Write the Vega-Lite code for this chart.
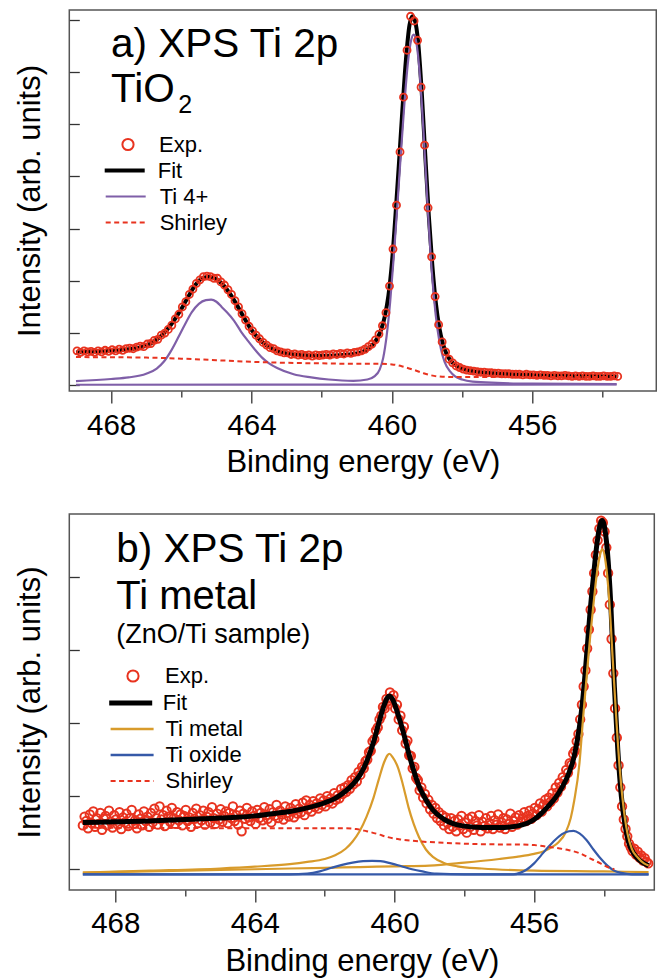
{
"$schema": "https://vega.github.io/schema/vega-lite/v6.json",
"padding": {"left": 13.3, "top": 7, "right": 0, "bottom": 0},
"config": {
 "font": "Liberation Sans",
 "view": {"stroke": "#555", "strokeWidth": 1.5},
 "axis": {"domain": false, "grid": false, "labelFont": "Liberation Sans", "titleFont": "Liberation Sans", "labelFontSize": 29.5, "titleFontSize": 31, "titleFontWeight": "normal", "labelColor": "#000", "titleColor": "#000", "tickColor": "#333", "tickWidth": 1.3},
 "legend": {"labelFont": "Liberation Sans", "labelFontSize": 22, "labelColor": "#000", "padding": 0}
},
"spacing": 30,
"resolve": {"scale": {"x": "independent", "y": "independent", "color": "independent", "strokeDash": "independent", "strokeWidth": "independent", "shape": "independent", "opacity": "independent"}, "legend": {"color": "independent", "strokeDash": "independent", "strokeWidth": "independent", "shape": "independent", "opacity": "independent"}},
"datasets": {
 "a_curves": [
  {"s":"Fit","e":469.0,"i":0.63},{"s":"Fit","e":468.5,"i":0.645},{"s":"Fit","e":468.0,"i":0.66},{"s":"Fit","e":467.5,"i":0.69},{"s":"Fit","e":467.2,"i":0.72},{"s":"Fit","e":467.0,"i":0.76},{"s":"Fit","e":466.8,"i":0.83},{"s":"Fit","e":466.6,"i":0.93},{"s":"Fit","e":466.4,"i":1.07},{"s":"Fit","e":466.2,"i":1.25},{"s":"Fit","e":466.0,"i":1.46},{"s":"Fit","e":465.8,"i":1.70},{"s":"Fit","e":465.6,"i":1.92},{"s":"Fit","e":465.4,"i":2.05},{"s":"Fit","e":465.2,"i":2.08},{"s":"Fit","e":465.0,"i":2.03},{"s":"Fit","e":464.8,"i":1.92},{"s":"Fit","e":464.6,"i":1.74},{"s":"Fit","e":464.4,"i":1.52},{"s":"Fit","e":464.2,"i":1.28},{"s":"Fit","e":464.0,"i":1.06},{"s":"Fit","e":463.8,"i":0.90},{"s":"Fit","e":463.6,"i":0.78},{"s":"Fit","e":463.4,"i":0.70},{"s":"Fit","e":463.2,"i":0.64},{"s":"Fit","e":463.0,"i":0.61},{"s":"Fit","e":462.5,"i":0.575},{"s":"Fit","e":462.0,"i":0.565},{"s":"Fit","e":461.5,"i":0.575},{"s":"Fit","e":461.0,"i":0.61},{"s":"Fit","e":460.8,"i":0.65},{"s":"Fit","e":460.6,"i":0.74},{"s":"Fit","e":460.4,"i":0.92},{"s":"Fit","e":460.3,"i":1.08},{"s":"Fit","e":460.2,"i":1.33},{"s":"Fit","e":460.1,"i":1.72},{"s":"Fit","e":460.0,"i":2.35},{"s":"Fit","e":459.9,"i":3.25},{"s":"Fit","e":459.8,"i":4.25},{"s":"Fit","e":459.7,"i":5.30},{"s":"Fit","e":459.6,"i":6.25},{"s":"Fit","e":459.5,"i":6.90},{"s":"Fit","e":459.42,"i":7.07},{"s":"Fit","e":459.35,"i":7.0},{"s":"Fit","e":459.25,"i":6.55},{"s":"Fit","e":459.15,"i":5.6},{"s":"Fit","e":459.05,"i":4.4},{"s":"Fit","e":458.95,"i":3.25},{"s":"Fit","e":458.85,"i":2.3},{"s":"Fit","e":458.75,"i":1.58},{"s":"Fit","e":458.65,"i":1.1},{"s":"Fit","e":458.55,"i":0.8},{"s":"Fit","e":458.45,"i":0.61},{"s":"Fit","e":458.3,"i":0.45},{"s":"Fit","e":458.1,"i":0.35},{"s":"Fit","e":457.8,"i":0.285},{"s":"Fit","e":457.4,"i":0.245},{"s":"Fit","e":457.0,"i":0.225},{"s":"Fit","e":456.0,"i":0.195},{"s":"Fit","e":455.0,"i":0.18},{"s":"Fit","e":453.6,"i":0.17},
  {"s":"Ti 4+","p":"a","e":469.0,"i":0.08},{"s":"Ti 4+","p":"a","e":468.0,"i":0.12},{"s":"Ti 4+","p":"a","e":467.5,"i":0.15},{"s":"Ti 4+","p":"a","e":467.0,"i":0.22},{"s":"Ti 4+","p":"a","e":466.7,"i":0.32},{"s":"Ti 4+","p":"a","e":466.5,"i":0.45},{"s":"Ti 4+","p":"a","e":466.3,"i":0.65},{"s":"Ti 4+","p":"a","e":466.1,"i":0.90},{"s":"Ti 4+","p":"a","e":465.9,"i":1.16},{"s":"Ti 4+","p":"a","e":465.7,"i":1.40},{"s":"Ti 4+","p":"a","e":465.5,"i":1.56},{"s":"Ti 4+","p":"a","e":465.3,"i":1.63},{"s":"Ti 4+","p":"a","e":465.15,"i":1.64},{"s":"Ti 4+","p":"a","e":465.0,"i":1.60},{"s":"Ti 4+","p":"a","e":464.85,"i":1.50},{"s":"Ti 4+","p":"a","e":464.7,"i":1.40},{"s":"Ti 4+","p":"a","e":464.5,"i":1.24},{"s":"Ti 4+","p":"a","e":464.3,"i":1.03},{"s":"Ti 4+","p":"a","e":464.1,"i":0.85},{"s":"Ti 4+","p":"a","e":463.9,"i":0.68},{"s":"Ti 4+","p":"a","e":463.7,"i":0.53},{"s":"Ti 4+","p":"a","e":463.5,"i":0.42},{"s":"Ti 4+","p":"a","e":463.27,"i":0.33},{"s":"Ti 4+","p":"a","e":462.8,"i":0.21},{"s":"Ti 4+","p":"a","e":462.3,"i":0.15},{"s":"Ti 4+","p":"a","e":461.8,"i":0.11},{"s":"Ti 4+","p":"a","e":461.1,"i":0.085},{"s":"Ti 4+","p":"a","e":460.7,"i":0.11},{"s":"Ti 4+","p":"a","e":460.5,"i":0.17},{"s":"Ti 4+","p":"a","e":460.35,"i":0.30},{"s":"Ti 4+","p":"a","e":460.25,"i":0.52},{"s":"Ti 4+","p":"a","e":460.15,"i":0.95},{"s":"Ti 4+","p":"a","e":460.05,"i":1.60},{"s":"Ti 4+","p":"a","e":459.95,"i":2.45},{"s":"Ti 4+","p":"a","e":459.85,"i":3.40},{"s":"Ti 4+","p":"a","e":459.75,"i":4.40},{"s":"Ti 4+","p":"a","e":459.65,"i":5.35},{"s":"Ti 4+","p":"a","e":459.55,"i":6.15},{"s":"Ti 4+","p":"a","e":459.45,"i":6.62},{"s":"Ti 4+","p":"a","e":459.38,"i":6.72},{"s":"Ti 4+","p":"a","e":459.3,"i":6.55},{"s":"Ti 4+","p":"a","e":459.2,"i":5.90},{"s":"Ti 4+","p":"a","e":459.1,"i":4.85},{"s":"Ti 4+","p":"a","e":459.0,"i":3.62},{"s":"Ti 4+","p":"a","e":458.9,"i":2.52},{"s":"Ti 4+","p":"a","e":458.8,"i":1.66},{"s":"Ti 4+","p":"a","e":458.7,"i":1.06},{"s":"Ti 4+","p":"a","e":458.6,"i":0.68},{"s":"Ti 4+","p":"a","e":458.5,"i":0.45},{"s":"Ti 4+","p":"a","e":458.35,"i":0.27},{"s":"Ti 4+","p":"a","e":458.2,"i":0.17},{"s":"Ti 4+","p":"a","e":458.0,"i":0.11},{"s":"Ti 4+","p":"a","e":457.7,"i":0.07},{"s":"Ti 4+","p":"a","e":457.0,"i":0.045},{"s":"Ti 4+","p":"a","e":456.0,"i":0.03},{"s":"Ti 4+","p":"a","e":453.6,"i":0.02},
  {"s":"Ti 4+","p":"b","e":469.0,"i":0.01},{"s":"Ti 4+","p":"b","e":453.6,"i":0.015},
  {"s":"Shirley","e":469.0,"i":0.54},{"s":"Shirley","e":467.0,"i":0.53},{"s":"Shirley","e":466.0,"i":0.51},{"s":"Shirley","e":465.0,"i":0.48},{"s":"Shirley","e":464.0,"i":0.45},{"s":"Shirley","e":463.0,"i":0.43},{"s":"Shirley","e":462.0,"i":0.42},{"s":"Shirley","e":461.0,"i":0.41},{"s":"Shirley","e":460.3,"i":0.41},{"s":"Shirley","e":460.0,"i":0.40},{"s":"Shirley","e":459.7,"i":0.36},{"s":"Shirley","e":459.4,"i":0.30},{"s":"Shirley","e":459.1,"i":0.23},{"s":"Shirley","e":458.8,"i":0.18},{"s":"Shirley","e":458.4,"i":0.16},{"s":"Shirley","e":458.0,"i":0.16},{"s":"Shirley","e":453.6,"i":0.16}
 ],
 "a_exp": [
  {"e":468.97,"i":0.66},{"e":468.87,"i":0.63},{"e":468.77,"i":0.66},{"e":468.67,"i":0.64},{"e":468.57,"i":0.65},{"e":468.47,"i":0.63},{"e":468.37,"i":0.66},{"e":468.27,"i":0.64},{"e":468.17,"i":0.67},{"e":468.07,"i":0.65},
  {"e":467.97,"i":0.68},{"e":467.87,"i":0.66},{"e":467.77,"i":0.69},{"e":467.67,"i":0.67},{"e":467.57,"i":0.70},{"e":467.47,"i":0.71},{"e":467.37,"i":0.70},{"e":467.27,"i":0.73},{"e":467.17,"i":0.75},{"e":467.07,"i":0.74},
  {"e":466.97,"i":0.79},{"e":466.87,"i":0.80},{"e":466.77,"i":0.86},{"e":466.67,"i":0.88},{"e":466.57,"i":0.96},{"e":466.47,"i":1.00},{"e":466.37,"i":1.07},{"e":466.27,"i":1.15},{"e":466.17,"i":1.27},{"e":466.07,"i":1.36},
  {"e":465.97,"i":1.50},{"e":465.87,"i":1.60},{"e":465.77,"i":1.74},{"e":465.67,"i":1.84},{"e":465.57,"i":1.95},{"e":465.47,"i":2.02},{"e":465.37,"i":2.08},{"e":465.27,"i":2.09},{"e":465.17,"i":2.08},{"e":465.07,"i":2.05},
  {"e":464.97,"i":2.05},{"e":464.87,"i":1.98},{"e":464.77,"i":1.92},{"e":464.67,"i":1.83},{"e":464.57,"i":1.74},{"e":464.47,"i":1.62},{"e":464.37,"i":1.50},{"e":464.27,"i":1.37},{"e":464.17,"i":1.25},{"e":464.07,"i":1.13},
  {"e":463.97,"i":1.04},{"e":463.87,"i":0.96},{"e":463.77,"i":0.89},{"e":463.67,"i":0.82},{"e":463.57,"i":0.77},{"e":463.47,"i":0.72},{"e":463.37,"i":0.70},{"e":463.27,"i":0.66},{"e":463.17,"i":0.64},{"e":463.07,"i":0.62},
  {"e":462.97,"i":0.62},{"e":462.87,"i":0.59},{"e":462.77,"i":0.60},{"e":462.67,"i":0.58},{"e":462.57,"i":0.59},{"e":462.47,"i":0.57},{"e":462.37,"i":0.58},{"e":462.27,"i":0.56},{"e":462.17,"i":0.58},{"e":462.07,"i":0.57},
  {"e":461.97,"i":0.58},{"e":461.87,"i":0.59},{"e":461.77,"i":0.58},{"e":461.67,"i":0.60},{"e":461.57,"i":0.59},{"e":461.47,"i":0.61},{"e":461.37,"i":0.60},{"e":461.27,"i":0.62},{"e":461.17,"i":0.61},{"e":461.07,"i":0.63},
  {"e":460.97,"i":0.64},{"e":460.87,"i":0.66},{"e":460.77,"i":0.69},{"e":460.67,"i":0.74},{"e":460.57,"i":0.79},{"e":460.47,"i":0.87},{"e":460.37,"i":0.98},{"e":460.27,"i":1.14},{"e":460.17,"i":1.39},{"e":460.07,"i":1.90},
  {"e":459.97,"i":2.61},{"e":459.87,"i":3.45},{"e":459.77,"i":4.47},{"e":459.67,"i":5.52},{"e":459.57,"i":6.42},{"e":459.47,"i":7.07},{"e":459.37,"i":6.98},{"e":459.27,"i":6.61},{"e":459.17,"i":5.71},{"e":459.07,"i":4.60},
  {"e":458.97,"i":3.40},{"e":458.87,"i":2.46},{"e":458.77,"i":1.70},{"e":458.67,"i":1.16},{"e":458.57,"i":0.83},{"e":458.47,"i":0.64},{"e":458.37,"i":0.50},{"e":458.27,"i":0.43},{"e":458.17,"i":0.37},{"e":458.07,"i":0.34},
  {"e":457.97,"i":0.31},{"e":457.87,"i":0.29},{"e":457.77,"i":0.28},{"e":457.67,"i":0.27},{"e":457.57,"i":0.26},{"e":457.47,"i":0.25},{"e":457.37,"i":0.25},{"e":457.27,"i":0.24},{"e":457.17,"i":0.24},{"e":457.07,"i":0.23},
  {"e":456.97,"i":0.23},{"e":456.87,"i":0.22},{"e":456.77,"i":0.22},{"e":456.67,"i":0.22},{"e":456.57,"i":0.21},{"e":456.47,"i":0.21},{"e":456.37,"i":0.21},{"e":456.27,"i":0.20},{"e":456.17,"i":0.21},{"e":456.07,"i":0.20},
  {"e":455.97,"i":0.20},{"e":455.87,"i":0.19},{"e":455.77,"i":0.20},{"e":455.67,"i":0.19},{"e":455.57,"i":0.19},{"e":455.47,"i":0.18},{"e":455.37,"i":0.19},{"e":455.27,"i":0.18},{"e":455.17,"i":0.18},{"e":455.07,"i":0.19},
  {"e":454.97,"i":0.18},{"e":454.87,"i":0.17},{"e":454.77,"i":0.18},{"e":454.67,"i":0.17},{"e":454.57,"i":0.18},{"e":454.47,"i":0.17},{"e":454.37,"i":0.17},{"e":454.27,"i":0.18},{"e":454.17,"i":0.17},{"e":454.07,"i":0.17},
  {"e":453.97,"i":0.18},{"e":453.87,"i":0.17},{"e":453.77,"i":0.17},{"e":453.67,"i":0.18},{"e":453.57,"i":0.17}
 ],
 "b_curves": [
  {"s":"Fit","e":468.93,"i":0.64},{"s":"Fit","e":468.0,"i":0.65},{"s":"Fit","e":467.0,"i":0.66},{"s":"Fit","e":466.0,"i":0.68},{"s":"Fit","e":465.0,"i":0.70},{"s":"Fit","e":464.0,"i":0.73},{"s":"Fit","e":463.5,"i":0.76},{"s":"Fit","e":463.0,"i":0.79},{"s":"Fit","e":462.5,"i":0.84},{"s":"Fit","e":462.0,"i":0.91},{"s":"Fit","e":461.7,"i":0.97},{"s":"Fit","e":461.4,"i":1.07},{"s":"Fit","e":461.2,"i":1.16},{"s":"Fit","e":461.0,"i":1.28},{"s":"Fit","e":460.8,"i":1.47},{"s":"Fit","e":460.6,"i":1.74},{"s":"Fit","e":460.45,"i":2.00},{"s":"Fit","e":460.3,"i":2.24},{"s":"Fit","e":460.2,"i":2.35},{"s":"Fit","e":460.15,"i":2.37},{"s":"Fit","e":460.05,"i":2.32},{"s":"Fit","e":459.9,"i":2.12},{"s":"Fit","e":459.75,"i":1.88},{"s":"Fit","e":459.6,"i":1.60},{"s":"Fit","e":459.45,"i":1.35},{"s":"Fit","e":459.3,"i":1.14},{"s":"Fit","e":459.1,"i":0.95},{"s":"Fit","e":458.9,"i":0.81},{"s":"Fit","e":458.6,"i":0.69},{"s":"Fit","e":458.3,"i":0.62},{"s":"Fit","e":458.0,"i":0.59},{"s":"Fit","e":457.5,"i":0.57},{"s":"Fit","e":457.0,"i":0.57},{"s":"Fit","e":456.5,"i":0.59},{"s":"Fit","e":456.2,"i":0.63},{"s":"Fit","e":456.0,"i":0.68},{"s":"Fit","e":455.8,"i":0.76},{"s":"Fit","e":455.6,"i":0.86},{"s":"Fit","e":455.4,"i":0.97},{"s":"Fit","e":455.2,"i":1.12},{"s":"Fit","e":455.0,"i":1.32},{"s":"Fit","e":454.85,"i":1.55},{"s":"Fit","e":454.7,"i":1.95},{"s":"Fit","e":454.6,"i":2.35},{"s":"Fit","e":454.5,"i":2.90},{"s":"Fit","e":454.4,"i":3.50},{"s":"Fit","e":454.3,"i":4.00},{"s":"Fit","e":454.2,"i":4.45},{"s":"Fit","e":454.1,"i":4.73},{"s":"Fit","e":454.05,"i":4.77},{"s":"Fit","e":454.0,"i":4.72},{"s":"Fit","e":453.9,"i":4.35},{"s":"Fit","e":453.8,"i":3.60},{"s":"Fit","e":453.7,"i":2.50},{"s":"Fit","e":453.6,"i":1.62},{"s":"Fit","e":453.5,"i":1.00},{"s":"Fit","e":453.4,"i":0.62},{"s":"Fit","e":453.3,"i":0.38},{"s":"Fit","e":453.15,"i":0.22},{"s":"Fit","e":453.0,"i":0.13},{"s":"Fit","e":452.85,"i":0.08},{"s":"Fit","e":452.72,"i":0.05},
  {"s":"Ti metal","p":"a","e":468.93,"i":-0.045},{"s":"Ti metal","p":"a","e":467.0,"i":-0.02},{"s":"Ti metal","p":"a","e":465.0,"i":0.01},{"s":"Ti metal","p":"a","e":464.0,"i":0.035},{"s":"Ti metal","p":"a","e":463.0,"i":0.07},{"s":"Ti metal","p":"a","e":462.5,"i":0.10},{"s":"Ti metal","p":"a","e":462.0,"i":0.14},{"s":"Ti metal","p":"a","e":461.7,"i":0.19},{"s":"Ti metal","p":"a","e":461.4,"i":0.28},{"s":"Ti metal","p":"a","e":461.2,"i":0.38},{"s":"Ti metal","p":"a","e":461.0,"i":0.52},{"s":"Ti metal","p":"a","e":460.8,"i":0.72},{"s":"Ti metal","p":"a","e":460.6,"i":0.98},{"s":"Ti metal","p":"a","e":460.45,"i":1.23},{"s":"Ti metal","p":"a","e":460.3,"i":1.46},{"s":"Ti metal","p":"a","e":460.2,"i":1.56},{"s":"Ti metal","p":"a","e":460.15,"i":1.58},{"s":"Ti metal","p":"a","e":460.05,"i":1.53},{"s":"Ti metal","p":"a","e":459.9,"i":1.39},{"s":"Ti metal","p":"a","e":459.75,"i":1.14},{"s":"Ti metal","p":"a","e":459.6,"i":0.85},{"s":"Ti metal","p":"a","e":459.45,"i":0.62},{"s":"Ti metal","p":"a","e":459.3,"i":0.44},{"s":"Ti metal","p":"a","e":459.1,"i":0.27},{"s":"Ti metal","p":"a","e":458.9,"i":0.17},{"s":"Ti metal","p":"a","e":458.6,"i":0.09},{"s":"Ti metal","p":"a","e":458.2,"i":0.04},{"s":"Ti metal","p":"a","e":457.5,"i":0.01},{"s":"Ti metal","p":"a","e":456.0,"i":-0.02},{"s":"Ti metal","p":"a","e":454.0,"i":-0.03},{"s":"Ti metal","p":"a","e":452.72,"i":-0.04},
  {"s":"Ti metal","p":"b","e":468.93,"i":-0.045},{"s":"Ti metal","p":"b","e":466.0,"i":-0.02},{"s":"Ti metal","p":"b","e":464.0,"i":0.0},{"s":"Ti metal","p":"b","e":462.0,"i":0.02},{"s":"Ti metal","p":"b","e":461.0,"i":0.03},{"s":"Ti metal","p":"b","e":460.0,"i":0.04},{"s":"Ti metal","p":"b","e":459.0,"i":0.05},{"s":"Ti metal","p":"b","e":458.0,"i":0.09},{"s":"Ti metal","p":"b","e":457.0,"i":0.14},{"s":"Ti metal","p":"b","e":456.5,"i":0.17},{"s":"Ti metal","p":"b","e":456.0,"i":0.21},{"s":"Ti metal","p":"b","e":455.7,"i":0.25},{"s":"Ti metal","p":"b","e":455.5,"i":0.30},{"s":"Ti metal","p":"b","e":455.3,"i":0.37},{"s":"Ti metal","p":"b","e":455.1,"i":0.50},{"s":"Ti metal","p":"b","e":454.95,"i":0.70},{"s":"Ti metal","p":"b","e":454.85,"i":0.94},{"s":"Ti metal","p":"b","e":454.7,"i":1.45},{"s":"Ti metal","p":"b","e":454.6,"i":2.05},{"s":"Ti metal","p":"b","e":454.5,"i":2.60},{"s":"Ti metal","p":"b","e":454.4,"i":3.15},{"s":"Ti metal","p":"b","e":454.3,"i":3.62},{"s":"Ti metal","p":"b","e":454.2,"i":4.05},{"s":"Ti metal","p":"b","e":454.1,"i":4.32},{"s":"Ti metal","p":"b","e":454.05,"i":4.38},{"s":"Ti metal","p":"b","e":453.95,"i":4.20},{"s":"Ti metal","p":"b","e":453.85,"i":3.70},{"s":"Ti metal","p":"b","e":453.75,"i":2.90},{"s":"Ti metal","p":"b","e":453.65,"i":2.10},{"s":"Ti metal","p":"b","e":453.55,"i":1.40},{"s":"Ti metal","p":"b","e":453.46,"i":0.94},{"s":"Ti metal","p":"b","e":453.32,"i":0.48},{"s":"Ti metal","p":"b","e":453.2,"i":0.28},{"s":"Ti metal","p":"b","e":453.03,"i":0.16},{"s":"Ti metal","p":"b","e":452.85,"i":0.08},{"s":"Ti metal","p":"b","e":452.72,"i":0.05},
  {"s":"Ti oxide","p":"a","e":468.93,"i":-0.07},{"s":"Ti oxide","p":"a","e":463.0,"i":-0.07},{"s":"Ti oxide","p":"a","e":462.5,"i":-0.06},{"s":"Ti oxide","p":"a","e":462.14,"i":-0.03},{"s":"Ti oxide","p":"a","e":461.8,"i":0.02},{"s":"Ti oxide","p":"a","e":461.5,"i":0.06},{"s":"Ti oxide","p":"a","e":461.2,"i":0.09},{"s":"Ti oxide","p":"a","e":460.9,"i":0.11},{"s":"Ti oxide","p":"a","e":460.64,"i":0.115},{"s":"Ti oxide","p":"a","e":460.4,"i":0.11},{"s":"Ti oxide","p":"a","e":460.1,"i":0.08},{"s":"Ti oxide","p":"a","e":459.8,"i":0.04},{"s":"Ti oxide","p":"a","e":459.5,"i":0.0},{"s":"Ti oxide","p":"a","e":459.2,"i":-0.03},{"s":"Ti oxide","p":"a","e":458.8,"i":-0.06},{"s":"Ti oxide","p":"a","e":458.0,"i":-0.07},{"s":"Ti oxide","p":"a","e":456.6,"i":-0.07},{"s":"Ti oxide","p":"a","e":456.4,"i":-0.05},{"s":"Ti oxide","p":"a","e":456.2,"i":0.0},{"s":"Ti oxide","p":"a","e":456.0,"i":0.08},{"s":"Ti oxide","p":"a","e":455.8,"i":0.19},{"s":"Ti oxide","p":"a","e":455.6,"i":0.30},{"s":"Ti oxide","p":"a","e":455.4,"i":0.40},{"s":"Ti oxide","p":"a","e":455.2,"i":0.48},{"s":"Ti oxide","p":"a","e":455.0,"i":0.52},{"s":"Ti oxide","p":"a","e":454.87,"i":0.525},{"s":"Ti oxide","p":"a","e":454.7,"i":0.49},{"s":"Ti oxide","p":"a","e":454.5,"i":0.40},{"s":"Ti oxide","p":"a","e":454.3,"i":0.27},{"s":"Ti oxide","p":"a","e":454.1,"i":0.15},{"s":"Ti oxide","p":"a","e":453.9,"i":0.05},{"s":"Ti oxide","p":"a","e":453.7,"i":-0.02},{"s":"Ti oxide","p":"a","e":453.5,"i":-0.05},{"s":"Ti oxide","p":"a","e":453.2,"i":-0.07},{"s":"Ti oxide","p":"a","e":452.72,"i":-0.07},
  {"s":"Ti oxide","p":"b","e":468.93,"i":-0.07},{"s":"Ti oxide","p":"b","e":452.72,"i":-0.07},
  {"s":"Shirley","e":468.93,"i":0.57},{"s":"Shirley","e":463.0,"i":0.56},{"s":"Shirley","e":461.5,"i":0.56},{"s":"Shirley","e":461.1,"i":0.55},{"s":"Shirley","e":460.8,"i":0.52},{"s":"Shirley","e":460.47,"i":0.48},{"s":"Shirley","e":460.2,"i":0.44},{"s":"Shirley","e":459.87,"i":0.41},{"s":"Shirley","e":459.5,"i":0.39},{"s":"Shirley","e":459.26,"i":0.38},{"s":"Shirley","e":458.5,"i":0.36},{"s":"Shirley","e":458.0,"i":0.35},{"s":"Shirley","e":457.0,"i":0.34},{"s":"Shirley","e":456.5,"i":0.34},{"s":"Shirley","e":456.0,"i":0.33},{"s":"Shirley","e":455.5,"i":0.30},{"s":"Shirley","e":455.0,"i":0.26},{"s":"Shirley","e":454.7,"i":0.22},{"s":"Shirley","e":454.4,"i":0.15},{"s":"Shirley","e":454.1,"i":0.08},{"s":"Shirley","e":453.9,"i":0.03},{"s":"Shirley","e":453.7,"i":0.0}
 ],
 "b_exp": [
  {"e":468.93,"i":0.60},{"e":468.88,"i":0.72},{"e":468.83,"i":0.66},{"e":468.78,"i":0.56},{"e":468.73,"i":0.75},{"e":468.68,"i":0.63},{"e":468.63,"i":0.79},{"e":468.58,"i":0.58},{"e":468.53,"i":0.70},{"e":468.48,"i":0.62},
  {"e":468.43,"i":0.77},{"e":468.38,"i":0.54},{"e":468.33,"i":0.69},{"e":468.28,"i":0.73},{"e":468.23,"i":0.60},{"e":468.18,"i":0.80},{"e":468.13,"i":0.65},{"e":468.08,"i":0.57},{"e":468.03,"i":0.74},{"e":467.98,"i":0.68},
  {"e":467.93,"i":0.61},{"e":467.88,"i":0.78},{"e":467.83,"i":0.55},{"e":467.78,"i":0.71},{"e":467.73,"i":0.64},{"e":467.68,"i":0.76},{"e":467.63,"i":0.59},{"e":467.58,"i":0.70},{"e":467.53,"i":0.81},{"e":467.48,"i":0.62},
  {"e":467.43,"i":0.67},{"e":467.38,"i":0.56},{"e":467.33,"i":0.75},{"e":467.28,"i":0.69},{"e":467.23,"i":0.60},{"e":467.18,"i":0.79},{"e":467.13,"i":0.66},{"e":467.08,"i":0.72},{"e":467.03,"i":0.58},{"e":466.98,"i":0.77},
  {"e":466.93,"i":0.64},{"e":466.88,"i":0.83},{"e":466.83,"i":0.70},{"e":466.78,"i":0.61},{"e":466.73,"i":0.86},{"e":466.68,"i":0.68},{"e":466.63,"i":0.74},{"e":466.58,"i":0.59},{"e":466.53,"i":0.80},{"e":466.48,"i":0.72},
  {"e":466.43,"i":0.65},{"e":466.38,"i":0.84},{"e":466.33,"i":0.70},{"e":466.28,"i":0.62},{"e":466.23,"i":0.78},{"e":466.18,"i":0.67},{"e":466.13,"i":0.75},{"e":466.08,"i":0.60},{"e":466.03,"i":0.73},{"e":465.98,"i":0.81},
  {"e":465.93,"i":0.66},{"e":465.88,"i":0.71},{"e":465.83,"i":0.58},{"e":465.78,"i":0.77},{"e":465.73,"i":0.69},{"e":465.68,"i":0.83},{"e":465.63,"i":0.63},{"e":465.58,"i":0.74},{"e":465.53,"i":0.67},{"e":465.48,"i":0.80},
  {"e":465.43,"i":0.61},{"e":465.38,"i":0.72},{"e":465.33,"i":0.78},{"e":465.28,"i":0.64},{"e":465.23,"i":0.85},{"e":465.18,"i":0.70},{"e":465.13,"i":0.62},{"e":465.08,"i":0.76},{"e":465.03,"i":0.68},{"e":464.98,"i":0.82},
  {"e":464.93,"i":0.65},{"e":464.88,"i":0.73},{"e":464.83,"i":0.79},{"e":464.78,"i":0.63},{"e":464.73,"i":0.77},{"e":464.68,"i":0.70},{"e":464.63,"i":0.86},{"e":464.58,"i":0.66},{"e":464.53,"i":0.74},{"e":464.48,"i":0.61},
  {"e":464.43,"i":0.80},{"e":464.38,"i":0.52},{"e":464.33,"i":0.76},{"e":464.28,"i":0.69},{"e":464.23,"i":0.84},{"e":464.18,"i":0.71},{"e":464.13,"i":0.66},{"e":464.08,"i":0.79},{"e":464.03,"i":0.73},{"e":463.98,"i":0.62},
  {"e":463.93,"i":0.81},{"e":463.88,"i":0.70},{"e":463.83,"i":0.77},{"e":463.78,"i":0.67},{"e":463.73,"i":0.85},{"e":463.68,"i":0.74},{"e":463.63,"i":0.69},{"e":463.58,"i":0.82},{"e":463.53,"i":0.64},{"e":463.48,"i":0.78},
  {"e":463.43,"i":0.73},{"e":463.38,"i":0.88},{"e":463.33,"i":0.70},{"e":463.28,"i":0.80},{"e":463.23,"i":0.75},{"e":463.18,"i":0.68},{"e":463.13,"i":0.86},{"e":463.08,"i":0.77},{"e":463.03,"i":0.72},{"e":462.98,"i":0.84},
  {"e":462.93,"i":0.79},{"e":462.88,"i":0.71},{"e":462.83,"i":0.89},{"e":462.78,"i":0.76},{"e":462.73,"i":0.83},{"e":462.68,"i":0.78},{"e":462.63,"i":0.91},{"e":462.58,"i":0.74},{"e":462.53,"i":0.94},{"e":462.48,"i":0.82},
  {"e":462.43,"i":0.88},{"e":462.38,"i":0.79},{"e":462.33,"i":0.93},{"e":462.28,"i":0.85},{"e":462.23,"i":0.90},{"e":462.18,"i":0.83},{"e":462.13,"i":0.97},{"e":462.08,"i":0.88},{"e":462.03,"i":0.94},{"e":461.98,"i":0.86},
  {"e":461.93,"i":1.00},{"e":461.88,"i":0.92},{"e":461.83,"i":0.97},{"e":461.78,"i":0.90},{"e":461.73,"i":1.04},{"e":461.68,"i":0.95},{"e":461.63,"i":1.01},{"e":461.58,"i":0.97},{"e":461.53,"i":1.10},{"e":461.48,"i":1.03},
  {"e":461.43,"i":1.12},{"e":461.38,"i":1.06},{"e":461.33,"i":1.15},{"e":461.28,"i":1.10},{"e":461.23,"i":1.22},{"e":461.18,"i":1.16},{"e":461.13,"i":1.26},{"e":461.08,"i":1.20},{"e":461.03,"i":1.33},{"e":460.98,"i":1.29},
  {"e":460.93,"i":1.40},{"e":460.88,"i":1.38},{"e":460.83,"i":1.48},{"e":460.78,"i":1.50},{"e":460.73,"i":1.60},{"e":460.68,"i":1.62},{"e":460.63,"i":1.75},{"e":460.58,"i":1.78},{"e":460.53,"i":1.90},{"e":460.48,"i":1.94},
  {"e":460.43,"i":2.05},{"e":460.38,"i":2.10},{"e":460.33,"i":2.22},{"e":460.28,"i":2.20},{"e":460.23,"i":2.33},{"e":460.18,"i":2.30},{"e":460.13,"i":2.42},{"e":460.08,"i":2.33},{"e":460.03,"i":2.38},{"e":459.98,"i":2.20},
  {"e":459.93,"i":2.25},{"e":459.88,"i":2.05},{"e":459.83,"i":2.10},{"e":459.78,"i":1.90},{"e":459.73,"i":1.95},{"e":459.68,"i":1.72},{"e":459.63,"i":1.76},{"e":459.58,"i":1.56},{"e":459.53,"i":1.55},{"e":459.48,"i":1.38},
  {"e":459.43,"i":1.40},{"e":459.38,"i":1.25},{"e":459.33,"i":1.22},{"e":459.28,"i":1.08},{"e":459.23,"i":1.12},{"e":459.18,"i":0.98},{"e":459.13,"i":1.03},{"e":459.08,"i":0.90},{"e":459.03,"i":0.95},{"e":458.98,"i":0.82},
  {"e":458.93,"i":0.88},{"e":458.88,"i":0.76},{"e":458.83,"i":0.84},{"e":458.78,"i":0.70},{"e":458.73,"i":0.78},{"e":458.68,"i":0.66},{"e":458.63,"i":0.74},{"e":458.58,"i":0.60},{"e":458.53,"i":0.71},{"e":458.48,"i":0.63},
  {"e":458.43,"i":0.55},{"e":458.38,"i":0.70},{"e":458.33,"i":0.58},{"e":458.28,"i":0.66},{"e":458.23,"i":0.52},{"e":458.18,"i":0.68},{"e":458.13,"i":0.60},{"e":458.08,"i":0.73},{"e":458.03,"i":0.55},{"e":457.98,"i":0.64},
  {"e":457.93,"i":0.50},{"e":457.88,"i":0.69},{"e":457.83,"i":0.58},{"e":457.78,"i":0.72},{"e":457.73,"i":0.54},{"e":457.68,"i":0.66},{"e":457.63,"i":0.60},{"e":457.58,"i":0.74},{"e":457.53,"i":0.52},{"e":457.48,"i":0.65},
  {"e":457.43,"i":0.59},{"e":457.38,"i":0.70},{"e":457.33,"i":0.56},{"e":457.28,"i":0.63},{"e":457.23,"i":0.73},{"e":457.18,"i":0.55},{"e":457.13,"i":0.67},{"e":457.08,"i":0.61},{"e":457.03,"i":0.75},{"e":456.98,"i":0.57},
  {"e":456.93,"i":0.64},{"e":456.88,"i":0.70},{"e":456.83,"i":0.55},{"e":456.78,"i":0.68},{"e":456.73,"i":0.62},{"e":456.68,"i":0.76},{"e":456.63,"i":0.58},{"e":456.58,"i":0.66},{"e":456.53,"i":0.71},{"e":456.48,"i":0.61},
  {"e":456.43,"i":0.74},{"e":456.38,"i":0.65},{"e":456.33,"i":0.70},{"e":456.28,"i":0.78},{"e":456.23,"i":0.66},{"e":456.18,"i":0.73},{"e":456.13,"i":0.80},{"e":456.08,"i":0.69},{"e":456.03,"i":0.76},{"e":455.98,"i":0.84},
  {"e":455.93,"i":0.74},{"e":455.88,"i":0.82},{"e":455.83,"i":0.90},{"e":455.78,"i":0.79},{"e":455.73,"i":0.88},{"e":455.68,"i":0.95},{"e":455.63,"i":0.86},{"e":455.58,"i":0.98},{"e":455.53,"i":0.92},{"e":455.48,"i":1.04},
  {"e":455.43,"i":0.97},{"e":455.38,"i":1.12},{"e":455.33,"i":1.05},{"e":455.28,"i":1.18},{"e":455.23,"i":1.13},{"e":455.18,"i":1.26},{"e":455.13,"i":1.22},{"e":455.08,"i":1.36},{"e":455.03,"i":1.32},{"e":454.98,"i":1.45},
  {"e":454.93,"i":1.43},{"e":454.88,"i":1.58},{"e":454.83,"i":1.62},{"e":454.78,"i":1.75},{"e":454.73,"i":1.85},{"e":454.68,"i":2.05},{"e":454.63,"i":2.25},{"e":454.58,"i":2.50},{"e":454.53,"i":2.72},{"e":454.48,"i":3.02},
  {"e":454.43,"i":3.28},{"e":454.38,"i":3.55},{"e":454.33,"i":3.80},{"e":454.28,"i":4.05},{"e":454.23,"i":4.30},{"e":454.18,"i":4.50},{"e":454.13,"i":4.66},{"e":454.08,"i":4.77},{"e":454.03,"i":4.74},{"e":453.98,"i":4.62},
  {"e":453.93,"i":4.40},{"e":453.88,"i":4.05},{"e":453.83,"i":3.62},{"e":453.78,"i":3.15},{"e":453.73,"i":2.68},{"e":453.68,"i":2.20},{"e":453.63,"i":1.80},{"e":453.58,"i":1.42},{"e":453.53,"i":1.12},{"e":453.48,"i":0.86},
  {"e":453.43,"i":0.68},{"e":453.38,"i":0.55},{"e":453.33,"i":0.45},{"e":453.28,"i":0.35},{"e":453.23,"i":0.30},{"e":453.18,"i":0.25},{"e":453.13,"i":0.28},{"e":453.08,"i":0.20},{"e":453.03,"i":0.24},{"e":452.98,"i":0.16},
  {"e":452.93,"i":0.19},{"e":452.88,"i":0.12},{"e":452.83,"i":0.15},{"e":452.78,"i":0.10},{"e":452.73,"i":0.08}
 ]
},
"vconcat": [
 {
  "width": 587, "height": 381,
  "layer": [
   {"data": {"name": "a_curves"}, "transform": [{"filter": "datum.s === 'Fit'"}],
    "mark": {"type": "line", "interpolate": "monotone", "color": "#000000"},
    "encoding": {
     "x": {"field": "e", "type": "quantitative", "scale": {"domain": [452.47, 469.19], "reverse": true, "nice": false, "zero": false}, "axis": {"values": [454,456,458,460,462,464,466,468], "labelExpr": "datum.value % 4 === 0 ? datum.label : ''", "tickSize": {"condition": {"test": "datum.value % 4 === 0", "value": 12}, "value": 6}, "labelPadding": 8, "titlePadding": 8, "title": "Binding energy (eV)", "labelFlush": false, "labelOverlap": false}},
     "y": {"field": "i", "type": "quantitative", "scale": {"domain": [-0.11, 7.19], "nice": false, "zero": false}, "axis": {"values": [0,1,2,3,4,5,6,7], "labels": false, "tickSize": -10, "title": "Intensity (arb. units)", "titlePadding": 22}},
     "strokeWidth": {"datum": "Fit", "type": "nominal", "scale": {"type": "ordinal", "domain": ["Fit"], "range": [4]}, "legend": {"orient": "none", "legendX": 44.4, "legendY": 149.5, "title": null, "symbolType": "M-4,0L4,0", "symbolSize": 100, "symbolStrokeColor": "#000000", "labelOffset": 22}}
    }},
   {"data": {"name": "a_curves"}, "transform": [{"filter": "datum.s === 'Ti 4+'"}],
    "mark": {"type": "line", "interpolate": "monotone", "color": "#7f5fa8", "strokeWidth": 2.2},
    "encoding": {
     "x": {"field": "e", "type": "quantitative"},
     "y": {"field": "i", "type": "quantitative"},
     "detail": {"field": "p"},
     "opacity": {"datum": "Ti 4+", "type": "nominal", "scale": {"type": "ordinal", "domain": ["Ti 4+"], "range": [1]}, "legend": {"orient": "none", "legendX": 45.4, "legendY": 175.5, "title": null, "symbolType": "M-4,0L4,0", "symbolSize": 100, "symbolStrokeColor": "#7f5fa8", "symbolStrokeWidth": 2.2, "symbolOpacity": 1, "labelOffset": 23}}
    }},
   {"data": {"name": "a_curves"}, "transform": [{"filter": "datum.s === 'Shirley'"}],
    "mark": {"type": "line", "interpolate": "monotone", "color": "#e8331f", "strokeWidth": 2},
    "encoding": {
     "x": {"field": "e", "type": "quantitative"},
     "y": {"field": "i", "type": "quantitative"},
     "strokeDash": {"datum": "Shirley", "type": "nominal", "scale": {"domain": ["Shirley"], "range": [[5,3.5]]}, "legend": {"orient": "none", "legendX": 45.4, "legendY": 201.5, "title": null, "symbolType": "M-4,0L4,0", "symbolSize": 100, "symbolStrokeColor": "#e8331f", "symbolStrokeWidth": 2, "labelOffset": 23}}
    }},
   {"data": {"name": "a_exp"},
    "mark": {"type": "point", "filled": false, "color": "#e8331f", "strokeWidth": 1.8, "size": 50, "opacity": 1},
    "encoding": {
     "x": {"field": "e", "type": "quantitative"},
     "y": {"field": "i", "type": "quantitative"},
     "shape": {"datum": "Exp.", "type": "nominal", "scale": {"domain": ["Exp."], "range": ["circle"]}, "legend": {"orient": "none", "legendX": 47.7, "legendY": 123.5, "title": null, "symbolSize": 125, "symbolStrokeWidth": 2, "symbolStrokeColor": "#e8331f", "symbolFillColor": "transparent", "labelOffset": 20}}
    }},
   {"data": {"values": [{}]},
    "mark": {"type": "text", "align": "left", "baseline": "alphabetic", "fontSize": 40.5, "font": "Liberation Sans", "color": "#000", "text": "a) XPS Ti 2p"},
    "encoding": {"x": {"datum": 468, "type": "quantitative"}, "y": {"datum": 6.29, "type": "quantitative"}}},
   {"data": {"values": [{}]},
    "mark": {"type": "text", "align": "left", "baseline": "alphabetic", "fontSize": 40.5, "font": "Liberation Sans", "color": "#000", "text": "TiO"},
    "encoding": {"x": {"datum": 468, "type": "quantitative"}, "y": {"datum": 5.43, "type": "quantitative"}}},
   {"data": {"values": [{}]},
    "mark": {"type": "text", "align": "left", "baseline": "alphabetic", "fontSize": 25, "font": "Liberation Sans", "color": "#000", "text": "2"},
    "encoding": {"x": {"datum": 466.09, "type": "quantitative"}, "y": {"datum": 5.22, "type": "quantitative"}}}
  ]
 },
 {
  "width": 585, "height": 376,
  "layer": [
   {"data": {"name": "b_exp"},
    "mark": {"type": "point", "filled": false, "color": "#e8331f", "strokeWidth": 2, "size": 70, "opacity": 1},
    "encoding": {
     "x": {"field": "e", "type": "quantitative", "scale": {"domain": [452.556, 469.318], "reverse": true, "nice": false, "zero": false}, "axis": {"values": [454,456,458,460,462,464,466,468], "labelExpr": "datum.value % 4 === 0 ? datum.label : ''", "tickSize": {"condition": {"test": "datum.value % 4 === 0", "value": 12}, "value": 6}, "labelPadding": 8, "titlePadding": 8, "title": "Binding energy (eV)", "labelFlush": false, "labelOverlap": false}},
     "y": {"field": "i", "type": "quantitative", "scale": {"domain": [-0.284, 4.86], "nice": false, "zero": false}, "axis": {"values": [0,1,2,3,4], "labels": false, "tickSize": -10, "title": "Intensity (arb. units)", "titlePadding": 22}},
     "shape": {"datum": "Exp.", "type": "nominal", "scale": {"domain": ["Exp."], "range": ["circle"]}, "legend": {"orient": "none", "legendX": 52.7, "legendY": 151, "title": null, "symbolSize": 125, "symbolStrokeWidth": 2, "symbolStrokeColor": "#e8331f", "symbolFillColor": "transparent", "labelOffset": 21}}
    }},
   {"data": {"name": "b_curves"}, "transform": [{"filter": "datum.s === 'Fit'"}],
    "mark": {"type": "line", "interpolate": "monotone", "color": "#000000"},
    "encoding": {
     "x": {"field": "e", "type": "quantitative"},
     "y": {"field": "i", "type": "quantitative"},
     "strokeWidth": {"datum": "Fit", "type": "nominal", "scale": {"type": "ordinal", "domain": ["Fit"], "range": [5]}, "legend": {"orient": "none", "legendX": 50.4, "legendY": 178, "title": null, "symbolType": "M-4.3,0L4.3,0", "symbolSize": 100, "symbolStrokeColor": "#000000", "labelOffset": 21}}
    }},
   {"data": {"name": "b_curves"}, "transform": [{"filter": "datum.s === 'Ti metal'"}],
    "mark": {"type": "line", "interpolate": "monotone", "color": "#d89b2b", "strokeWidth": 2.2},
    "encoding": {
     "x": {"field": "e", "type": "quantitative"},
     "y": {"field": "i", "type": "quantitative"},
     "detail": {"field": "p"},
     "opacity": {"datum": "Ti metal", "type": "nominal", "scale": {"type": "ordinal", "domain": ["Ti metal"], "range": [1]}, "legend": {"orient": "none", "legendX": 51.8, "legendY": 204, "title": null, "symbolType": "M-4.3,0L4.3,0", "symbolSize": 100, "symbolStrokeColor": "#d89b2b", "symbolStrokeWidth": 2.4, "symbolOpacity": 1, "labelOffset": 22.4}}
    }},
   {"data": {"name": "b_curves"}, "transform": [{"filter": "datum.s === 'Ti oxide'"}],
    "mark": {"type": "line", "interpolate": "monotone", "strokeWidth": 2.2},
    "encoding": {
     "x": {"field": "e", "type": "quantitative"},
     "y": {"field": "i", "type": "quantitative"},
     "detail": {"field": "p"},
     "color": {"datum": "Ti oxide", "type": "nominal", "scale": {"domain": ["Ti oxide"], "range": ["#3559a8"]}, "legend": {"orient": "none", "legendX": 51.8, "legendY": 230, "title": null, "symbolType": "M-4.3,0L4.3,0", "symbolSize": 100, "symbolStrokeWidth": 2.4, "labelOffset": 22.4}}
    }},
   {"data": {"name": "b_curves"}, "transform": [{"filter": "datum.s === 'Shirley'"}],
    "mark": {"type": "line", "interpolate": "monotone", "color": "#e8331f", "strokeWidth": 2},
    "encoding": {
     "x": {"field": "e", "type": "quantitative"},
     "y": {"field": "i", "type": "quantitative"},
     "strokeDash": {"datum": "Shirley", "type": "nominal", "scale": {"domain": ["Shirley"], "range": [[5,3.5]]}, "legend": {"orient": "none", "legendX": 51.8, "legendY": 256, "title": null, "symbolType": "M-4.3,0L4.3,0", "symbolSize": 100, "symbolStrokeColor": "#e8331f", "symbolStrokeWidth": 2, "labelOffset": 22.4}}
    }},
   {"data": {"values": [{}]},
    "mark": {"type": "text", "align": "left", "baseline": "alphabetic", "fontSize": 40.5, "font": "Liberation Sans", "color": "#000", "text": "b) XPS Ti 2p"},
    "encoding": {"x": {"datum": 467.97, "type": "quantitative"}, "y": {"datum": 4.2, "type": "quantitative"}}},
   {"data": {"values": [{}]},
    "mark": {"type": "text", "align": "left", "baseline": "alphabetic", "fontSize": 40, "font": "Liberation Sans", "color": "#000", "text": "Ti metal"},
    "encoding": {"x": {"datum": 467.97, "type": "quantitative"}, "y": {"datum": 3.56, "type": "quantitative"}}},
   {"data": {"values": [{}]},
    "mark": {"type": "text", "align": "left", "baseline": "alphabetic", "fontSize": 27, "font": "Liberation Sans", "color": "#000", "text": "(ZnO/Ti sample)"},
    "encoding": {"x": {"datum": 467.97, "type": "quantitative"}, "y": {"datum": 3.10, "type": "quantitative"}}}
  ]
 }
]
}
